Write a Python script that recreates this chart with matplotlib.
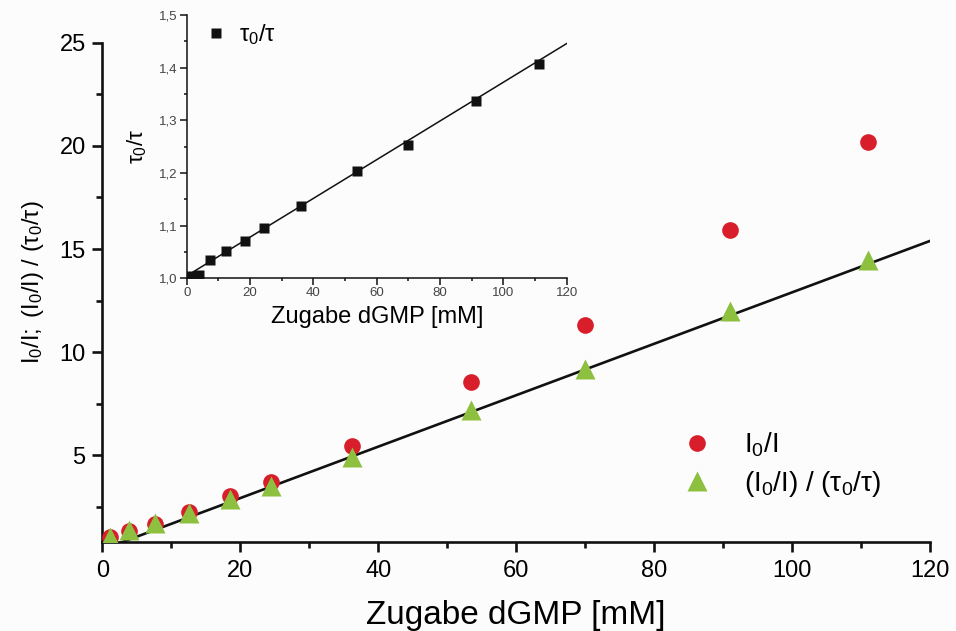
import matplotlib
matplotlib.use("Agg")
import matplotlib.pyplot as plt
import numpy as np
from matplotlib.ticker import MultipleLocator, FuncFormatter

plt.rcParams['font.family'] = ['Liberation Sans', 'DejaVu Sans']
plt.rcParams['mathtext.fontset'] = 'custom'
plt.rcParams['mathtext.rm'] = 'Liberation Sans'
plt.rcParams['mathtext.it'] = 'Liberation Sans:italic'
plt.rcParams['mathtext.bf'] = 'Liberation Sans:bold'

# ---- data ----
dgmp = [1.1, 3.8, 7.6, 12.5, 18.5, 24.5, 36.2, 53.5, 70.0, 91.0, 111.0]
i0_i = [1.01, 1.31, 1.68, 2.25, 3.02, 3.70, 5.45, 8.53, 11.3, 15.9, 20.2]
ratio = [1.04, 1.39, 1.71, 2.20, 2.85, 3.50, 4.92, 7.18, 9.16, 12.0, 14.45]
main_fit_intercept = 0.42
main_fit_slope = 0.1248
main_fit_range = [0.0, 120.0]

tau_x = [1.1, 3.8, 7.4, 12.5, 18.4, 24.5, 36.1, 53.7, 70.0, 91.3, 111.2]
tau_ratio = [1.005, 1.006, 1.035, 1.052, 1.071, 1.096, 1.137, 1.204, 1.254, 1.337, 1.408]
inset_fit_intercept = 1.0046
inset_fit_slope = 0.003679
inset_fit_range = [2.0, 120.5]

red = '#d81e2a'
green = '#8dc03f'
bg = '#fcfcfc'

fig = plt.figure(figsize=(9.56, 6.31), dpi=100, facecolor=bg)
ax = fig.add_axes([0.107, 0.1415, 0.866, 0.7905])
ax.set_facecolor(bg)

xf = np.array(main_fit_range)
ax.plot(xf, main_fit_intercept + main_fit_slope * xf, color='#111111', lw=1.9, zorder=2)
ax.plot(dgmp, i0_i, 'o', color=red, ms=12, mec='none', zorder=3, label=r'$\mathregular{I_0/I}$')
ax.plot(dgmp, ratio, '^', color=green, ms=14, mec='none', zorder=4,
        label=r'$\mathregular{(I_0/I)\ /\ (\tau_0/\tau)}$')

ax.set_xlim(0, 120)
ax.set_ylim(0.8, 25)
ax.xaxis.set_major_locator(MultipleLocator(20))
ax.xaxis.set_minor_locator(MultipleLocator(10))
ax.yaxis.set_major_locator(MultipleLocator(5))
ax.yaxis.set_minor_locator(MultipleLocator(2.5))
for s in ['top', 'right']:
    ax.spines[s].set_visible(False)
for s in ['left', 'bottom']:
    ax.spines[s].set_linewidth(1.9)
    ax.spines[s].set_color('#111111')
ax.tick_params(which='major', direction='out', length=7, width=1.9, labelsize=17, pad=5, color='#111111')
ax.tick_params(which='minor', direction='out', length=4, width=1.9, color='#111111')
ax.tick_params(axis='x', which='major', pad=6)
ax.set_xlabel('Zugabe dGMP [mM]', fontsize=24, labelpad=13)
ax.set_ylabel(r'$\mathregular{I_0/I;\ (I_0/I)\ /\ (\tau_0/\tau)}$', fontsize=17, labelpad=8)
ax.yaxis.set_label_coords(-0.068, 0.52)

leg = ax.legend(loc='upper left', bbox_to_anchor=(0.685, 0.245), frameon=False, fontsize=20,
                handletextpad=1.1, labelspacing=0.35, handlelength=1.2, borderaxespad=0)

# ---- inset ----
ins = fig.add_axes([0.1953, 0.559, 0.3975, 0.417])
ins.patch.set_alpha(0)
xi = np.array(inset_fit_range)
ins.plot(xi, inset_fit_intercept + inset_fit_slope * xi, color='#111111', lw=1.1, zorder=2)
ins.plot(tau_x, tau_ratio, 's', color='#111111', ms=7, mec='none', zorder=3,
         label=r'$\mathregular{\tau_0/\tau}$')
ins.set_xlim(0, 120)
ins.set_ylim(1.0, 1.5)
ins.xaxis.set_major_locator(MultipleLocator(20))
ins.xaxis.set_minor_locator(MultipleLocator(10))
ins.yaxis.set_major_locator(MultipleLocator(0.1))
ins.yaxis.set_minor_locator(MultipleLocator(0.05))
ins.yaxis.set_major_formatter(FuncFormatter(lambda v, p: f'{v:.1f}'.replace('.', ',')))
for s in ['top', 'right']:
    ins.spines[s].set_visible(False)
for s in ['left', 'bottom']:
    ins.spines[s].set_linewidth(1.1)
    ins.spines[s].set_color('#111111')
ins.tick_params(which='major', direction='out', length=5, width=1.1, labelsize=9.5, pad=1.5,
                color='#111111', labelcolor='#444444')
ins.tick_params(which='minor', direction='out', length=2.5, width=1.1, color='#111111')
ins.set_xlabel('Zugabe dGMP [mM]', fontsize=17, labelpad=5)
ins.set_ylabel(r'$\mathregular{\tau_0/\tau}$', fontsize=16, labelpad=7)
ins.legend(loc='upper left', bbox_to_anchor=(0.02, 1.01), frameon=False, fontsize=17,
           handletextpad=0.5, handlelength=1.0, borderaxespad=0)

fig.savefig('out.png', dpi=100, facecolor=bg)
